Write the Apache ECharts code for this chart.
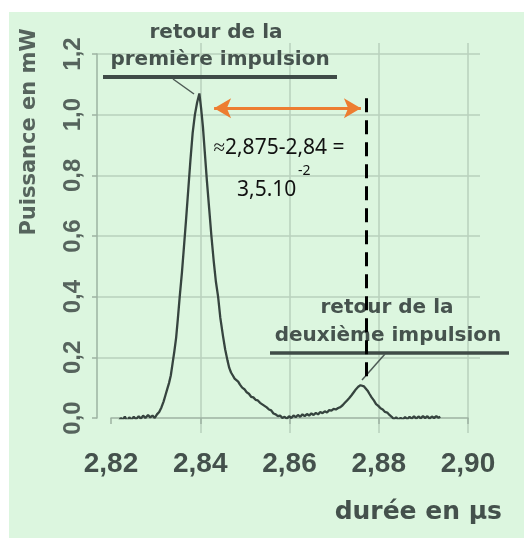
<!DOCTYPE html>
<html>
<head>
<meta charset="utf-8">
<script src="https://cdn.jsdelivr.net/npm/echarts@6/dist/echarts.min.js"></script>
<style>
html,body{margin:0;padding:0;background:#ffffff;}
#c{width:524px;height:538px;}
</style>
</head>
<body>
<div id="c"></div>
<script>
// ---- data ----
const times = [2.8216,2.8222,2.8226,2.8231,2.8236,2.8241,2.8246,2.8251,2.8256,2.8262,2.8267,2.8272,2.8277,2.8283,2.8288,2.8293,2.8298,2.8303,2.8308,2.8313,2.8318,2.8322,2.8326,2.8330,2.8334,2.8338,2.8342,2.8346,2.8350,2.8354,2.8359,2.8363,2.8368,2.8373,2.8378,2.8383,2.8388,2.8393,2.8398,2.8402,2.8406,2.8410,2.8415,2.8420,2.8425,2.8430,2.8435,2.8440,2.8445,2.8451,2.8456,2.8461,2.8465,2.8469,2.8473,2.8477,2.8481,2.8485,2.8489,2.8494,2.8499,2.8504,2.8509,2.8514,2.8519,2.8524,2.8529,2.8534,2.8539,2.8544,2.8549,2.8554,2.8559,2.8564,2.8569,2.8574,2.8579,2.8584,2.8589,2.8594,2.8599,2.8604,2.8609,2.8614,2.8619,2.8624,2.8629,2.8634,2.8639,2.8644,2.8649,2.8654,2.8659,2.8664,2.8669,2.8674,2.8679,2.8684,2.8689,2.8694,2.8699,2.8704,2.8709,2.8714,2.8719,2.8724,2.8729,2.8734,2.8739,2.8744,2.8749,2.8754,2.8759,2.8763,2.8767,2.8771,2.8775,2.8779,2.8784,2.8789,2.8794,2.8799,2.8804,2.8809,2.8814,2.8819,2.8824,2.8829,2.8834,2.8839,2.8844,2.8849,2.8854,2.8859,2.8864,2.8869,2.8874,2.8879,2.8884,2.8889,2.8894,2.8899,2.8904,2.8909,2.8914,2.8919,2.8924,2.8929,2.8934,2.8938];
const power = [-0.015,0.000,-0.008,0.005,-0.012,0.002,-0.006,0.004,-0.004,0.006,-0.002,0.008,0.000,0.010,0.002,0.008,0.000,0.012,0.020,0.035,0.055,0.075,0.095,0.115,0.140,0.180,0.220,0.265,0.33,0.40,0.48,0.555,0.65,0.75,0.85,0.94,1.00,1.04,1.07,1.02,0.96,0.88,0.78,0.69,0.60,0.52,0.45,0.40,0.33,0.27,0.225,0.19,0.165,0.15,0.14,0.13,0.125,0.12,0.11,0.10,0.095,0.085,0.08,0.07,0.068,0.06,0.058,0.05,0.045,0.04,0.035,0.028,0.025,0.015,0.012,0.006,0.008,0.0,0.004,-0.002,0.006,0.0,0.008,0.003,0.01,0.004,0.012,0.006,0.013,0.008,0.015,0.01,0.017,0.012,0.02,0.016,0.022,0.018,0.026,0.024,0.03,0.028,0.033,0.036,0.042,0.05,0.058,0.066,0.075,0.085,0.095,0.103,0.108,0.11,0.104,0.098,0.09,0.08,0.068,0.058,0.046,0.04,0.032,0.028,0.02,0.018,0.01,0.004,-0.004,0.002,-0.006,0.0,-0.005,0.003,-0.004,0.004,-0.002,0.006,-0.002,0.005,-0.001,0.006,0.0,0.006,-0.002,0.005,0.0,0.006,0.001,0.004];

const xMin = 2.82, xMax = 2.90, xStep = 0.02;
const yMin = 0, yMax = 1.2, yStep = 0.2;

// annotation anchors (data units)
const arrowY = 1.021;
const arrowFrom = 2.8431, arrowTo = 2.8760;
const dashX = 2.8773, dashTop = 1.054, dashBottom = 0.115;

const xAxisTitle = 'durée en µs';
const yAxisTitle = 'Puissance en mW';
const note1 = ['retour de la', 'première impulsion'];
const note2 = ['retour de la', 'deuxième impulsion'];
const calc1 = '≈2,875-2,84 =';
const calc2 = '3,5.10';
const calcExp = '-2';

const fmtX = v => v.toFixed(2).replace('.', ',');
const fmtY = v => v.toFixed(1).replace('.', ',');

const axisCol = '#9db3a2';
const gridCol = '#b9d0bd';
const txtCol = '#44514c';
const annCol = '#46534e';

const chart = echarts.init(document.getElementById('c'), null, {renderer: 'canvas'});
const data = times.map((t, i) => [t, power[i]]);

chart.setOption({
  backgroundColor: '#ffffff',
  animation: false,
  grid: [
    {left: 111, right: 56, top: 54, bottom: 120},
    {left: 111, right: 56, top: 43, bottom: 105},
    {left: 97, right: 44, top: 54, bottom: 120}
  ],
  xAxis: [
    {gridIndex: 0, type: 'value', min: xMin, max: xMax, interval: xStep, offset: 15,
     axisLine: {lineStyle: {color: axisCol, width: 1.5}},
     axisTick: {show: true, length: 6, lineStyle: {color: axisCol, width: 1.5}},
     splitLine: {show: false},
     axisLabel: {formatter: fmtX, fontFamily: 'Liberation Sans', fontWeight: 'bold', fontSize: 28, color: txtCol, margin: 17}},
    {gridIndex: 1, type: 'value', min: xMin, max: xMax, interval: xStep,
     axisLine: {show: false}, axisTick: {show: false}, axisLabel: {show: false},
     splitLine: {show: true, showMinLine: false, lineStyle: {color: gridCol, width: 1.5}}},
    {gridIndex: 2, type: 'value', min: 0, max: 1, show: false}
  ],
  yAxis: [
    {gridIndex: 0, type: 'value', min: yMin, max: yMax, interval: yStep, offset: 14,
     axisLine: {show: true, lineStyle: {color: axisCol, width: 1.5}},
     axisTick: {show: true, length: 5, lineStyle: {color: axisCol, width: 1.5}},
     splitLine: {show: false},
     axisLabel: {formatter: fmtY, rotate: 90, fontFamily: 'Liberation Sans', fontWeight: 'bold', fontSize: 24, color: '#56645d', margin: 12}},
    {gridIndex: 1, type: 'value', min: 0, max: 1, show: false},
    {gridIndex: 2, type: 'value', min: yMin, max: yMax, interval: yStep,
     axisLine: {show: false}, axisTick: {show: false}, axisLabel: {show: false},
     splitLine: {show: true, showMinLine: false, lineStyle: {color: gridCol, width: 1.5}}}
  ],
  series: [
    {type: 'line', xAxisIndex: 0, yAxisIndex: 0, data: data, showSymbol: false, z: 3,
     lineStyle: {color: '#36443f', width: 2.3},
     markLine: {
       silent: true, symbol: ['none', 'none'], label: {show: false}, animation: false,
       data: [
         [{coord: [dashX, dashTop], lineStyle: {color: '#000000', width: 3, type: [14, 8]}},
          {coord: [dashX, dashBottom]}],
         [{coord: [arrowFrom, arrowY], symbol: 'arrow', symbolSize: [15, 17], lineStyle: {color: '#ed7d31', width: 3, type: 'solid'}},
          {coord: [arrowTo, arrowY], symbol: 'arrow', symbolSize: [15, 17]}]
       ]
     }}
  ],
  graphic: [
    {type: 'rect', z: -10, silent: true, shape: {x: 9, y: 12, width: 515, height: 526}, style: {fill: '#dcf6df'}},
    {type: 'text', z: 5, x: 30, y: 132, rotation: Math.PI / 2,
     style: {text: yAxisTitle, font: 'bold 21px "DejaVu Sans"', fill: '#56645d', align: 'center', verticalAlign: 'middle'}},
    {type: 'text', z: 5, x: 502, y: 512,
     style: {text: xAxisTitle, font: 'bold 25px "DejaVu Sans"', fill: txtCol, align: 'right', verticalAlign: 'middle'}},
    {type: 'text', z: 5, x: 216, y: 33,
     style: {text: note1[0], font: 'bold 20px "DejaVu Sans"', fill: annCol, align: 'center', verticalAlign: 'middle'}},
    {type: 'text', z: 5, x: 220, y: 60,
     style: {text: note1[1], font: 'bold 20px "DejaVu Sans"', fill: annCol, align: 'center', verticalAlign: 'middle'}},
    {type: 'line', z: 5, shape: {x1: 103, y1: 77, x2: 337, y2: 77}, style: {stroke: '#3f4b47', lineWidth: 4}},
    {type: 'line', z: 5, shape: {x1: 173, y1: 79, x2: 194, y2: 94}, style: {stroke: '#4d5a55', lineWidth: 1.5}},
    {type: 'text', z: 5, x: 387, y: 308,
     style: {text: note2[0], font: 'bold 20px "DejaVu Sans"', fill: annCol, align: 'center', verticalAlign: 'middle'}},
    {type: 'text', z: 5, x: 388, y: 336,
     style: {text: note2[1], font: 'bold 20px "DejaVu Sans"', fill: annCol, align: 'center', verticalAlign: 'middle'}},
    {type: 'line', z: 5, shape: {x1: 270, y1: 353, x2: 509, y2: 353}, style: {stroke: '#3f4b47', lineWidth: 3.5}},
    {type: 'line', z: 5, shape: {x1: 385, y1: 354, x2: 362, y2: 380}, style: {stroke: '#4d5a55', lineWidth: 1.5}},
    {type: 'text', z: 5, x: 279, y: 148,
     style: {text: calc1, font: '21px "Noto Sans"', fill: '#111111', align: 'center', verticalAlign: 'middle'}},
    {type: 'text', z: 5, x: 237, y: 190,
     style: {text: calc2, font: '21px "Noto Sans"', fill: '#111111', align: 'left', verticalAlign: 'middle'}},
    {type: 'text', z: 5, x: 298, y: 171,
     style: {text: calcExp, font: '14px "Noto Sans"', fill: '#111111', align: 'left', verticalAlign: 'middle'}}
  ]
});
</script>
</body>
</html>
